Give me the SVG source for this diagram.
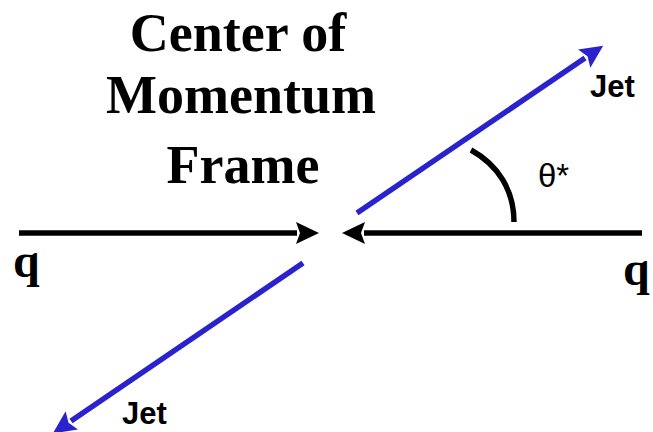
<svg xmlns="http://www.w3.org/2000/svg" width="653" height="432" viewBox="0 0 653 432">
<style>
.title{font-family:"Liberation Serif","Times New Roman",serif;font-weight:bold;font-size:54px;fill:#000;text-anchor:middle}
.q{font-family:"Liberation Serif","Times New Roman",serif;font-weight:bold;font-size:48px;fill:#000}
.jet{font-family:"Liberation Sans",Arial,sans-serif;font-weight:bold;font-size:31px;fill:#000}
.theta{font-family:"Liberation Sans",Arial,sans-serif;font-size:33px;fill:#000}
.blk{stroke:#000;stroke-width:5.5;fill:none}
.blu{stroke:#2a22cc;stroke-width:5.5;fill:none}
</style>
<defs>
<marker id="ahB" markerUnits="userSpaceOnUse" markerWidth="26" markerHeight="24" refX="1" refY="11" orient="auto" viewBox="0 0 26 24">
<path d="M0,0 L23,11 L0,22 L4,11 z" fill="#000"/>
</marker>
<marker id="ahU" markerUnits="userSpaceOnUse" markerWidth="26" markerHeight="24" refX="1" refY="11" orient="auto" viewBox="0 0 26 24">
<path d="M0,0 L23,11 L0,22 L4,11 z" fill="#2a22cc"/>
</marker>
</defs>
<rect width="653" height="432" fill="#fff"/>
<g id="title">
<text class="title" x="238" y="51">Center of</text>
<text class="title" x="241" y="113">Momentum</text>
<text class="title" x="243" y="183">Frame</text>
</g>
<g id="q-left"><text class="q" x="13" y="277">q</text></g>
<g id="q-right"><text class="q" x="623" y="285">q</text></g>
<g id="jet-upper"><text class="jet" x="590" y="97">Jet</text></g>
<g id="jet-lower"><text class="jet" x="122" y="424">Jet</text></g>
<g id="angle">
<path class="blk" d="M471,150 C498,165 514,190 514,222"/>
<text class="theta" x="538" y="187">θ*</text>
</g>
<g id="connectors">
<line class="blk" x1="19" y1="233" x2="297" y2="233" marker-end="url(#ahB)"/>
<line class="blk" x1="642" y1="233" x2="364" y2="233" marker-end="url(#ahB)"/>
<line class="blu" x1="357" y1="213" x2="585" y2="58" marker-end="url(#ahU)"/>
<line class="blu" x1="303" y1="263" x2="71" y2="421" marker-end="url(#ahU)"/>
</g>
</svg>
